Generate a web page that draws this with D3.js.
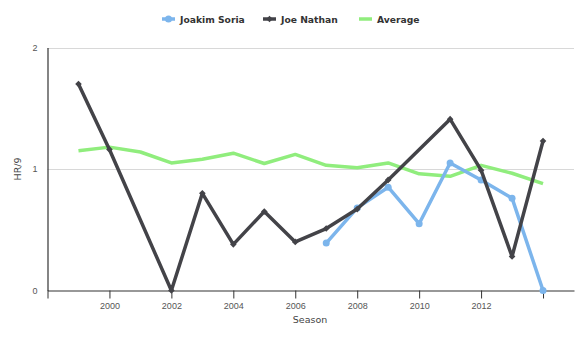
<!DOCTYPE html>
<html>
<head>
<meta charset="utf-8">
<script src="https://cdn.jsdelivr.net/npm/d3@7"></script>
<style>
  body { margin: 0; background: #fff; }
  svg { display: block; font-family: "DejaVu Sans", Verdana, sans-serif; }
</style>
</head>
<body>
<svg id="chart" width="583" height="339"></svg>
<script>
// HR/9 by season
const soriaYears   = [2007, 2008, 2009, 2010, 2011, 2012, 2013, 2014];
const soriaValues  = [0.39, 0.68, 0.85, 0.55, 1.05, 0.91, 0.76, 0.0];
const nathanYears  = [1999, 2000, 2002, 2003, 2004, 2005, 2006, 2007, 2008, 2009, 2011, 2012, 2013, 2014];
const nathanValues = [1.70, 1.16, 0.0, 0.80, 0.38, 0.65, 0.40, 0.51, 0.67, 0.91, 1.41, 0.99, 0.28, 1.23];
const avgYears     = [1999, 2000, 2001, 2002, 2003, 2004, 2005, 2006, 2007, 2008, 2009, 2010, 2011, 2012, 2013, 2014];
const avgValues    = [1.15, 1.18, 1.14, 1.05, 1.08, 1.13, 1.045, 1.12, 1.03, 1.01, 1.05, 0.96, 0.94, 1.03, 0.965, 0.88];
const xTicks = [1998, 2000, 2002, 2004, 2006, 2008, 2010, 2012, 2014];
const xLabels = [2000, 2002, 2004, 2006, 2008, 2010, 2012];
const yTicks = [0, 1, 2];

const colors = { "Joakim Soria": "#7cb5ec", "Joe Nathan": "#434348", "Average": "#90ed7d" };

const svg = d3.select("#chart");
const x = d3.scaleLinear().domain([1998, 2015]).range([47.5, 574]);
const y = d3.scaleLinear().domain([0, 2]).range([290.5, 47.5]);

// horizontal grid lines
svg.append("g").selectAll("line").data(yTicks.filter(d => d > 0)).join("line")
  .attr("x1", x(1998)).attr("x2", x(2015))
  .attr("y1", d => Math.round(y(d)) + 0.5).attr("y2", d => Math.round(y(d)) + 0.5)
  .attr("stroke", "#d8d8d8").attr("stroke-width", 1);

// y axis
const yAxis = svg.append("g").attr("transform", `translate(${x(1998)},0)`)
  .call(d3.axisLeft(y).tickValues(yTicks).tickFormat(d3.format("d")).tickSize(0).tickPadding(10));
yAxis.select(".domain").attr("stroke", "#333").attr("stroke-width", 1.2);
yAxis.selectAll("text").attr("fill", "#555").attr("font-size", 9);

// x axis
const xAxis = svg.append("g").attr("transform", `translate(0,${y(0)})`)
  .call(d3.axisBottom(x).tickValues(xTicks)
    .tickFormat(d => xLabels.includes(d) ? String(d) : "").tickSize(8).tickSizeOuter(0).tickPadding(4));
xAxis.select(".domain").attr("stroke", "#333").attr("stroke-width", 1.2);
xAxis.selectAll(".tick line").attr("stroke", "#333");
xAxis.selectAll("text").attr("fill", "#555").attr("font-size", 9);

// axis titles
svg.append("text").attr("x", 310).attr("y", 323).attr("text-anchor", "middle")
  .attr("font-size", 9.5).attr("fill", "#444").text("Season");
svg.append("text").attr("transform", "translate(21,169) rotate(-90)").attr("text-anchor", "middle")
  .attr("font-size", 9.5).attr("fill", "#444").text("HR/9");

const line = d3.line().x(d => x(d[0])).y(d => y(d[1]));
const zip = (a, b) => a.map((v, i) => [v, b[i]]);

// Average (no markers)
svg.append("path").datum(zip(avgYears, avgValues)).attr("d", line)
  .attr("fill", "none").attr("stroke", colors["Average"]).attr("stroke-width", 3.5)
  .attr("stroke-linejoin", "round");

// Joakim Soria
const soria = zip(soriaYears, soriaValues);
svg.append("path").datum(soria).attr("d", line)
  .attr("fill", "none").attr("stroke", colors["Joakim Soria"]).attr("stroke-width", 3.5)
  .attr("stroke-linejoin", "round");
svg.append("g").selectAll("circle").data(soria).join("circle")
  .attr("cx", d => x(d[0])).attr("cy", d => y(d[1])).attr("r", 3.5)
  .attr("fill", colors["Joakim Soria"]);

// Joe Nathan
const nathan = zip(nathanYears, nathanValues);
svg.append("path").datum(nathan).attr("d", line)
  .attr("fill", "none").attr("stroke", colors["Joe Nathan"]).attr("stroke-width", 3.5)
  .attr("stroke-linejoin", "round");
const diamond = d3.symbol().type(d3.symbolDiamond2).size(28);
svg.append("g").selectAll("path").data(nathan).join("path")
  .attr("transform", d => `translate(${x(d[0])},${y(d[1])})`)
  .attr("d", diamond).attr("fill", colors["Joe Nathan"]);

// legend
const legendItems = [
  { name: "Joakim Soria", x: 162, marker: "circle" },
  { name: "Joe Nathan", x: 263, marker: "diamond" },
  { name: "Average", x: 359, marker: null }
];
const lg = svg.append("g");
legendItems.forEach(it => {
  const g = lg.append("g").attr("transform", `translate(${it.x},19)`);
  g.append("line").attr("x1", 0).attr("x2", 13).attr("y1", 0).attr("y2", 0)
    .attr("stroke", colors[it.name]).attr("stroke-width", 3.5);
  if (it.marker === "circle") {
    g.append("circle").attr("cx", 6.5).attr("cy", 0).attr("r", 3.5).attr("fill", colors[it.name]);
  } else if (it.marker === "diamond") {
    g.append("path").attr("transform", "translate(6.5,0)").attr("d", diamond).attr("fill", colors[it.name]);
  }
  g.append("text").attr("x", 18).attr("y", 3.5).attr("font-size", 9.2).attr("font-weight", "bold")
    .attr("fill", "#333").text(it.name);
});
</script>
</body>
</html>
